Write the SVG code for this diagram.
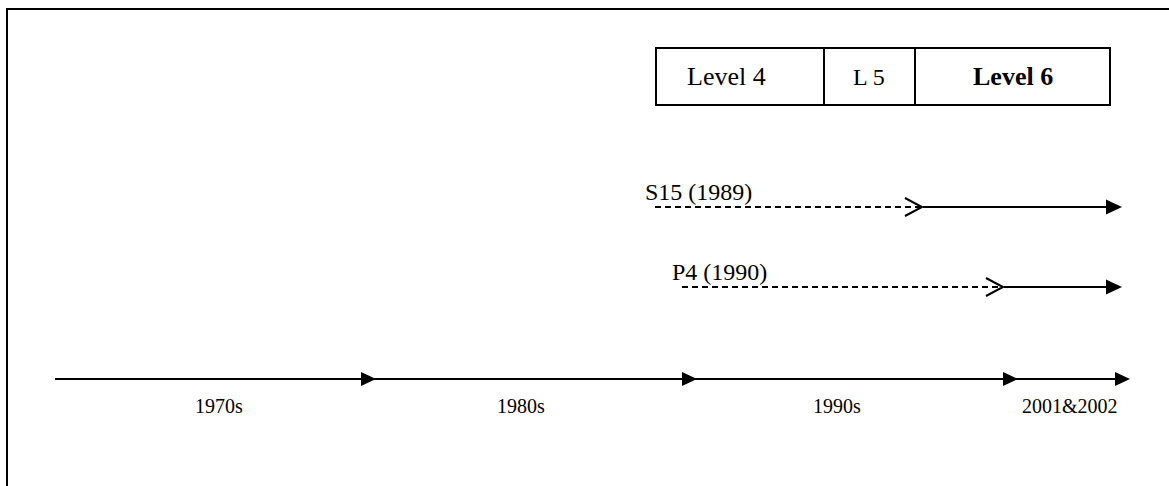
<svg xmlns="http://www.w3.org/2000/svg" width="1169" height="486" viewBox="0 0 1169 486">
  <style>
    .frame { fill: none; stroke: #000; stroke-width: 2; }
    .cell { fill: #fff; stroke: #000; stroke-width: 2; }
    .big { font-family: "Liberation Serif", "Times New Roman", serif; font-size: 24px; fill: #000; }
    .lvl { font-size: 26px; }
    .bold { font-weight: bold; }
    .small { font-family: "Liberation Serif", "Times New Roman", serif; font-size: 20px; fill: #000; }
    .line { stroke: #000; stroke-width: 2; fill: none; }
    .dash { stroke: #000; stroke-width: 2; fill: none; stroke-dasharray: 6 4; }
    .head { fill: #000; }
    .open { stroke: #000; stroke-width: 2; fill: none; }
  </style>

  <!-- page frame, runs off the right and bottom edges -->
  <rect x="7" y="9" width="1200" height="520" class="frame"/>

  <!-- level bar -->
  <g id="level4">
    <rect x="656" y="48" width="168" height="57" class="cell"/>
    <text x="687" y="85" class="big lvl">Level 4</text>
  </g>
  <g id="level5">
    <rect x="824" y="48" width="91" height="57" class="cell"/>
    <text x="853" y="85" class="big">L 5</text>
  </g>
  <g id="level6">
    <rect x="915" y="48" width="195" height="57" class="cell"/>
    <text x="973" y="85" class="big lvl bold">Level 6</text>
  </g>

  <!-- labels -->
  <g id="s15">
    <text x="645" y="200" class="big">S15 (1989)</text>
  </g>
  <g id="p4">
    <text x="672" y="280" class="big">P4 (1990)</text>
  </g>
  <g id="decade-labels">
    <text x="195" y="413" class="small">1970s</text>
    <text x="497" y="413" class="small">1980s</text>
    <text x="813" y="413" class="small">1990s</text>
    <text x="1022" y="413" class="small">2001&amp;2002</text>
  </g>

  <g id="connectors">
    <!-- S15 track -->
    <line x1="655" y1="207" x2="921" y2="207" class="dash"/>
    <polyline points="905,198 922,207 905,216" class="open"/>
    <line x1="923" y1="207" x2="1108" y2="207" class="line"/>
    <polygon points="1106,199.5 1122,207 1106,214.5" class="head"/>

    <!-- P4 track -->
    <line x1="682" y1="287" x2="1001" y2="287" class="dash"/>
    <polyline points="986,278 1003,287 986,296" class="open"/>
    <line x1="1004" y1="287" x2="1108" y2="287" class="line"/>
    <polygon points="1106,279.5 1122,287 1106,294.5" class="head"/>

    <!-- decade timeline -->
    <line x1="55" y1="379" x2="1118" y2="379" class="line"/>
    <polygon points="361,372 376,379 361,386" class="head"/>
    <polygon points="682,372 697,379 682,386" class="head"/>
    <polygon points="1003,372 1018,379 1003,386" class="head"/>
    <polygon points="1115,372 1130,379 1115,386" class="head"/>
  </g>
</svg>
